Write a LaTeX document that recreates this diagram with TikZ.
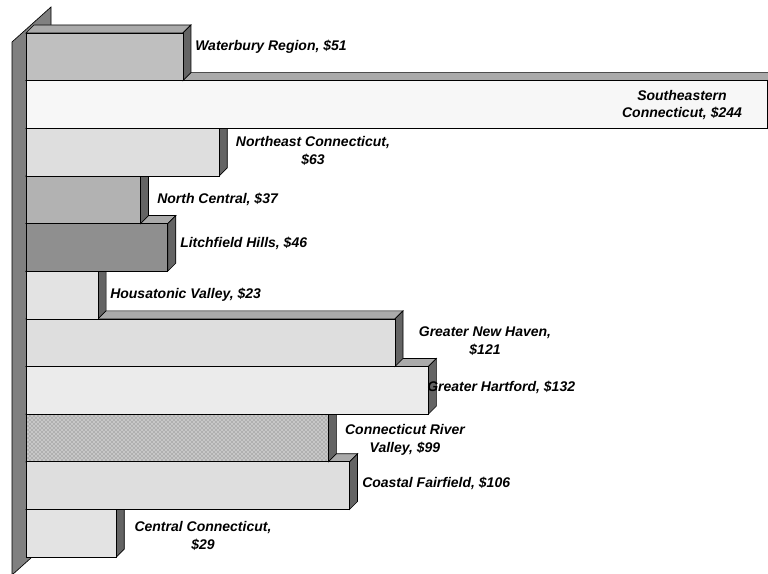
\documentclass[tikz,border=0pt]{standalone}
\usepackage{fontspec}
\setsansfont{Liberation Sans}
\usepackage{tikz}
\usetikzlibrary{patterns}
\definecolor{wallgray}{RGB}{128,128,128}
\definecolor{sidegray}{RGB}{100,100,100}
\definecolor{topgray}{RGB}{170,170,170}

% one 3-D bar: row, value, look of the front face
\newcommand{\ctbar}[3]{%
  \pgfmathsetmacro{\barytop}{33+47.64*(#1-1)}%
  \pgfmathsetmacro{\barybot}{\barytop+47.64}%
  \pgfmathsetmacro{\barxend}{28.4+3.03*#2}%
  \draw[face,fill=topgray] (26,\barytop) -- (34,\barytop-8) -- (\barxend+8,\barytop-8) -- (\barxend,\barytop) -- cycle;
  \draw[face,fill=sidegray] (\barxend,\barytop) -- (\barxend+8,\barytop-8) -- (\barxend+8,\barybot-8) -- (\barxend,\barybot) -- cycle;
  \draw[face,#3] (26,\barytop) rectangle (\barxend,\barybot);}

\begin{document}
\begin{tikzpicture}[x=0.75pt,y=-0.75pt,
    face/.style={draw=black,line width=0.5pt,line join=miter},
    lbl/.style={font=\sffamily\bfseries\itshape\fontsize{10.5}{13}\selectfont,align=center,inner sep=0pt}]
    \useasboundingbox (0,0) rectangle (768,574);
    \clip (0,0) rectangle (768,574);

    % Left wall
    \draw[face,fill=wallgray] (12,42) -- (51,7) -- (51,540) -- (12,575) -- cycle;

    % Bars, lowest first
    \ctbar{11}{29}{fill=black!11}
    \ctbar{10}{106}{fill=black!13}
    \ctbar{9}{99}{preaction={fill=black!22},pattern=crosshatch dots,pattern color=black!60}
    \ctbar{8}{132}{fill=black!8}
    \ctbar{7}{121}{fill=black!13}
    \ctbar{6}{23}{fill=black!11}
    \ctbar{5}{46}{fill=black!44}
    \ctbar{4}{37}{fill=black!30}
    \ctbar{3}{63}{fill=black!13}
    \ctbar{2}{244}{fill=black!3}
    \ctbar{1}{51}{fill=black!25}

    % Labels
    \node[lbl,anchor=west] (waterbury) at (195,47) {Waterbury Region, \$51};
    \node[lbl] (southeastern) at (682,105) {Southeastern\\Connecticut, \$244};
    \node[lbl] (northeast) at (313,151) {Northeast Connecticut,\\\$63};
    \node[lbl,anchor=west] (northcentral) at (157,199) {North Central, \$37};
    \node[lbl,anchor=west] (litchfield) at (180,243) {Litchfield Hills, \$46};
    \node[lbl,anchor=west] (housatonic) at (110,295) {Housatonic Valley, \$23};
    \node[lbl] (newhaven) at (485,341) {Greater New Haven,\\\$121};
    \node[lbl,anchor=west] (hartford) at (427,387) {Greater Hartford, \$132};
    \node[lbl] (rivervalley) at (405,440) {Connecticut River\\Valley, \$99};
    \node[lbl,anchor=west] (fairfield) at (362,483) {Coastal Fairfield, \$106};
    \node[lbl] (central) at (203,536) {Central Connecticut,\\\$29};
\end{tikzpicture}
\end{document}
